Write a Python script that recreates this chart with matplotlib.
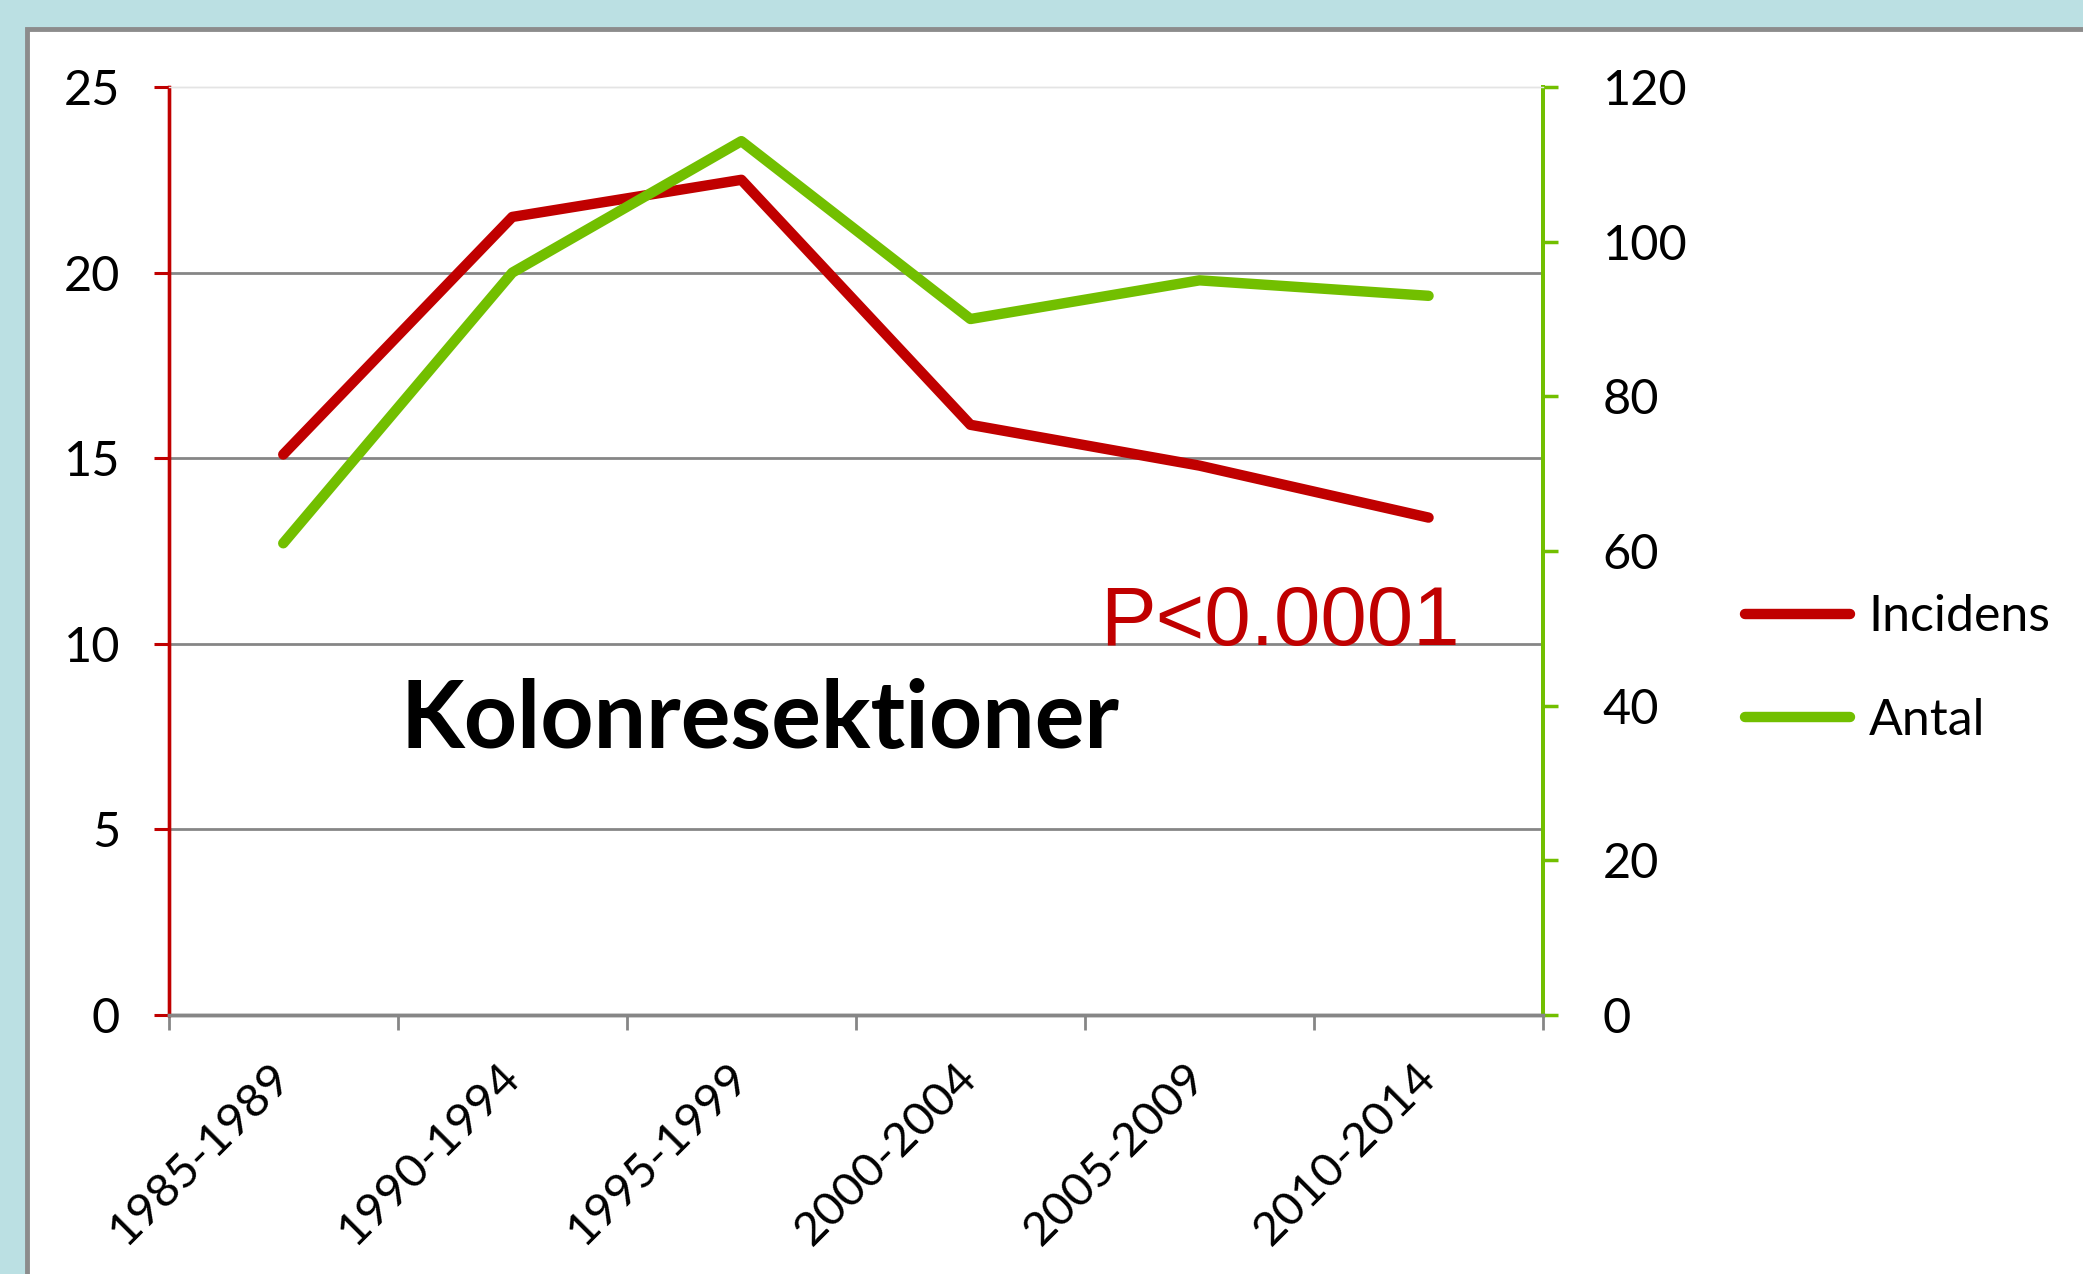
import matplotlib.pyplot as plt
from matplotlib.patches import Rectangle

# data
periods = ["1985-1989", "1990-1994", "1995-1999", "2000-2004", "2005-2009", "2010-2014"]
incidens = [15.1, 21.5, 22.5, 15.9, 14.8, 13.4]
antal = [61, 96, 113, 90, 95, 93]
left_ticks = [0, 5, 10, 15, 20, 25]
right_ticks = [0, 20, 40, 60, 80, 100, 120]
grid_values = [5, 10, 15, 20]

RED = "#C00000"
GREEN = "#72BF00"
GRAY = "#868686"

plt.rcParams["font.family"] = ["Lato", "DejaVu Sans"]

fig = plt.figure(figsize=(20.83, 12.74), dpi=100, facecolor="#BBE0E3")
# white panel with gray border, behind the axes
fig.patches.append(
    Rectangle((27 / 2083, -0.1), 1.2, 1 - 29 / 1274 + 0.1,
              transform=fig.transFigure, facecolor="white",
              edgecolor="#8C8C8C", linewidth=3.5, zorder=-1)
)

ax = fig.add_axes([0.081, 0.2033, 0.6598, 0.7284])
ax.set_facecolor("none")
ax2 = ax.twinx()

x = list(range(len(periods)))
(l1,) = ax.plot(x, incidens, color=RED, linewidth=7.5, solid_capstyle="round",
                solid_joinstyle="round", label="Incidens")
(l2,) = ax2.plot(x, antal, color=GREEN, linewidth=7.5, solid_capstyle="round",
                 solid_joinstyle="round", label="Antal")

ax.set_xlim(-0.5, len(periods) - 0.5)
ax.set_ylim(0, 25)
ax2.set_ylim(0, 120)

for v in grid_values:
    ax.axhline(v, color=GRAY, linewidth=2.0, zorder=0.5)

# x axis: tick marks on category boundaries, labels at centres
ax.set_xticks([i - 0.5 for i in range(len(periods) + 1)])
ax.set_xticklabels([])
ax.set_xticks(x, minor=True)
ax.set_xticklabels(periods, minor=True, rotation=45, ha="right", va="center",
                   rotation_mode="anchor", fontsize=34)
ax.tick_params(axis="x", which="major", direction="out", length=11, width=2,
               color=GRAY)
ax.tick_params(axis="x", which="minor", length=0, pad=40)

ax.set_yticks(left_ticks)
ax.tick_params(axis="y", direction="out", length=11, width=2.2, color=RED,
               labelsize=35, pad=24)
ax2.set_yticks(right_ticks)
ax2.tick_params(axis="y", direction="out", length=11, width=2.5, color=GREEN,
                labelsize=35, pad=32)

for a in (ax, ax2):
    a.spines["left"].set_color(RED)
    a.spines["left"].set_linewidth(2.4)
    a.spines["right"].set_color(GREEN)
    a.spines["right"].set_linewidth(2.8)
    a.spines["bottom"].set_color(GRAY)
    a.spines["bottom"].set_linewidth(2.5)
    a.spines["top"].set_color("#E4E4E4")
    a.spines["top"].set_linewidth(1.0)

ax.text(0.169, 0.288, "Kolonresektioner", transform=ax.transAxes,
        fontsize=67, fontweight="bold", color="black", zorder=5)
ax.text(0.678, 0.399, "P<0.0001", transform=ax.transAxes,
        fontsize=60, color=RED, family="Liberation Sans", zorder=5)

leg = fig.legend(handles=[l1, l2], loc="center left",
                 bbox_to_anchor=(1700 / 2083, 1 - 669 / 1274), frameon=False,
                 fontsize=36, handlelength=2.1, handletextpad=0.37,
                 labelspacing=1.15)
for h in leg.get_lines():
    h.set_linewidth(7.5)

fig.savefig("out.png", dpi=100, facecolor=fig.get_facecolor())
